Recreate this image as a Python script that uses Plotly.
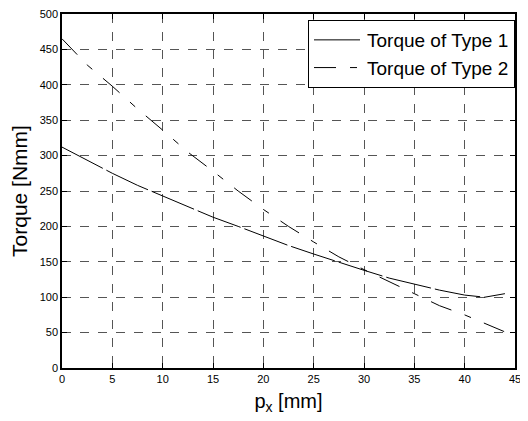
import plotly.graph_objects as go

x1 = [0, 2, 5, 7.5, 10, 12.5, 15, 17.5, 20, 22.5, 25, 27.5, 30, 32.5, 35, 37.5, 40, 42, 44]
torque_type1 = [312, 297, 275, 258, 243, 228, 213, 200, 186, 173, 161, 149, 138, 127, 118, 110, 103, 100, 105]

x2 = [0, 2.5, 5, 7.5, 10, 12.5, 15, 17.5, 20, 22.5, 25, 27.5, 30, 32.5, 35, 37.5, 40, 42.5, 44]
torque_type2 = [465, 428, 398, 366, 336, 305, 278, 250, 224, 200, 178, 157, 139, 122, 104, 88, 75, 60, 51]

x_ticks = [0, 5, 10, 15, 20, 25, 30, 35, 40, 45]
y_ticks = [0, 50, 100, 150, 200, 250, 300, 350, 400, 450, 500]

FONT = "Liberation Sans, Arial, sans-serif"

fig = go.Figure()
fig.add_trace(go.Scatter(x=x1, y=torque_type1, mode="lines", name="Torque of Type 1",
                         line=dict(color="black", width=1, dash="46px,4px")))
fig.add_trace(go.Scatter(x=x2, y=torque_type2, mode="lines", name="Torque of Type 2",
                         line=dict(color="black", width=1, dash="22px,14px,7px,14px")))

axis_common = dict(showline=True, mirror="ticks", linecolor="black", linewidth=1.5,
                   ticks="inside", ticklen=5, tickcolor="black", automargin=False,
                   ticklabeloverflow="allow",
                   showgrid=True, gridcolor="#555555", griddash="dash", gridwidth=1,
                   zeroline=False, tickfont=dict(family=FONT, size=11, color="black"))

fig.update_xaxes(range=[0, 45], tickvals=x_ticks, ticktext=[str(v) for v in x_ticks],
                 title=dict(text="p<sub>x</sub> [mm]", font=dict(family=FONT, size=20, color="black"), standoff=10),
                 **axis_common)
fig.update_yaxes(range=[0, 500], tickvals=y_ticks, ticktext=[str(v) for v in y_ticks],
                 title=dict(text="Torque [Nmm]", font=dict(family=FONT, size=21, color="black"), standoff=10),
                 **axis_common)

# page body adds an 8px offset, so the figure is sized to fill the rest of the window
fig.update_layout(
    width=520, height=413,
    margin=dict(l=54, r=13, t=6, b=53),
    paper_bgcolor="white", plot_bgcolor="white",
    showlegend=True,
    legend=dict(x=1.0, y=0.983, xanchor="right", yanchor="top",
                bgcolor="white", bordercolor="black", borderwidth=1,
                font=dict(family=FONT, size=19, color="black"),
                tracegroupgap=0, itemwidth=48),
)

fig.write_html("out.html")
